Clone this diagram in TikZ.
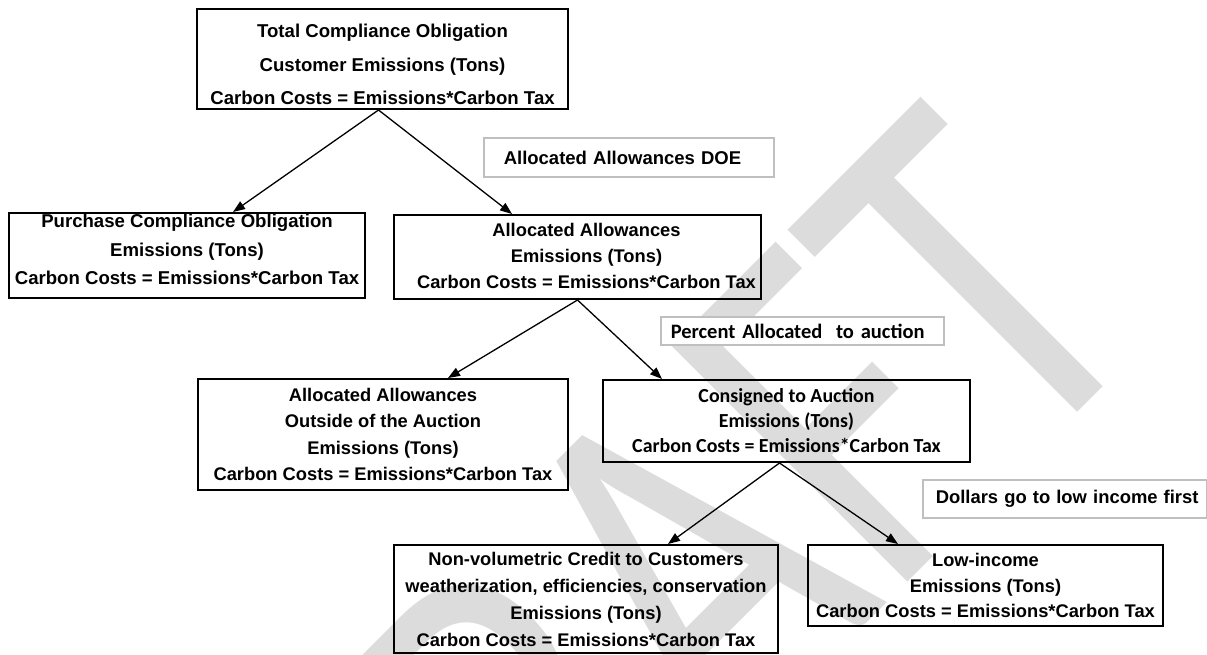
\documentclass[tikz,border=0pt]{standalone}
\usepackage{fontspec}
\setmainfont{Liberation Sans}
\newfontfamily\calibrifont{Carlito}
\usetikzlibrary{arrows.meta}
\definecolor{wmgray}{RGB}{220,220,220}
\begin{document}
\begin{tikzpicture}[x=1pt,y=-1pt,
  box/.style={draw=black, line width=2pt, inner sep=0pt, align=center, anchor=north west,
    font=\bfseries\fontsize{18.4}{28}\selectfont},
  boxtext/.style={inner sep=0pt, align=center},
  lbl/.style={draw=black!25, line width=1.5pt, fill=white, inner ysep=0pt, anchor=west, align=left,
    font=\bfseries\fontsize{18.4}{22}\selectfont},
  wm/.style={inner sep=0pt, text=wmgray, transform shape, font=\calibrifont\fontsize{520}{520}\selectfont},
  arr/.style={line width=1.3pt, -{Triangle[length=12pt,width=9pt]}}]
\useasboundingbox (0,0) rectangle (1207,654);

% watermark
\begin{scope}[shift={(1160,330)}, rotate=45, xscale=0.78]
  \node[wm, anchor=base east] (wmark) at (0,0) {DRAFT};
\end{scope}

% boxes
\node[box, minimum width=371pt, minimum height=100pt] (tot) at (196,8) {};
\node[boxtext, font=\bfseries\fontsize{18.6}{33.5}\selectfont] (totT) at ([yshift=-5.5pt]tot.center)
  {Total Compliance Obligation\\Customer Emissions (Tons)\\Carbon Costs = Emissions*Carbon Tax};
\node[box, minimum width=356pt, minimum height=85pt] (pur) at (8,212) {};
\node[boxtext, font=\bfseries\fontsize{18.6}{28.5}\selectfont] (purT) at ([yshift=6pt]pur.center)
  {Purchase Compliance Obligation\\Emissions (Tons)\\Carbon Costs = Emissions*Carbon Tax};
\node[box, minimum width=367pt, minimum height=84pt] (all) at (393,214) {};
\node[boxtext, font=\bfseries\fontsize{18.3}{26}\selectfont] (allT) at ([xshift=9pt, yshift=1pt]all.center)
  {Allocated Allowances\\Emissions (Tons)\\Carbon Costs = Emissions*Carbon Tax};
\node[box, minimum width=370pt, minimum height=111pt, font=\bfseries\fontsize{18.3}{26.5}\selectfont] (out) at (197,378)
  {Allocated Allowances\\Outside of the Auction\\Emissions (Tons)\\Carbon Costs = Emissions*Carbon Tax};
\node[box, minimum width=367pt, minimum height=82pt, font=\calibrifont\bfseries\fontsize{19.9}{25}\selectfont] (con) at (602,379)
  {Consigned to Auction\\Emissions (Tons)\\Carbon Costs = Emissions*Carbon Tax};
\node[box, minimum width=384pt, minimum height=108pt, font=\bfseries\fontsize{18.3}{27}\selectfont] (nvc) at (393,544)
  {Non-volumetric Credit to Customers\\weatherization, efficiencies, conservation\\Emissions (Tons)\\Carbon Costs = Emissions*Carbon Tax};
\node[box, minimum width=355pt, minimum height=81pt, font=\bfseries\fontsize{18.3}{25.5}\selectfont] (low) at (807,544)
  {Low-income\\Emissions (Tons)\\Carbon Costs = Emissions*Carbon Tax};

% labels
\node[lbl, minimum height=39pt, text width=250pt, inner xsep=20pt, font=\bfseries\fontsize{18.5}{22}\selectfont] (doe) at (483,157.5)
  {Allocated Allowances DOE};
\node[lbl, minimum height=28pt, text width=263pt, inner xsep=10pt, font=\calibrifont\bfseries\fontsize{20.5}{24}\selectfont] (pct) at (660,331)
  {Percent Allocated\ \ to auction};
\node[lbl, minimum height=38pt, text width=258pt, inner xsep=13pt] (dol) at (922,499)
  {\mbox{Dollars go to low income first}};

% arrow targets
\coordinate (tPur) at (233,212);
\coordinate (tAll) at (512,214);
\coordinate (tOut) at (448,378);
\coordinate (tCon) at (662,379);
\coordinate (tNvc) at (668,544);
\coordinate (tLow) at (898,544);

\draw[arr] ([xshift=-4pt]tot.south) -- (tPur);
\draw[arr] ([xshift=-4pt]tot.south) -- (tAll);
\draw[arr] (all.south) -- (tOut);
\draw[arr] (all.south) -- (tCon);
\draw[arr] ([xshift=-7pt]con.south) -- (tNvc);
\draw[arr] ([xshift=-7pt]con.south) -- (tLow);
\end{tikzpicture}
\end{document}
